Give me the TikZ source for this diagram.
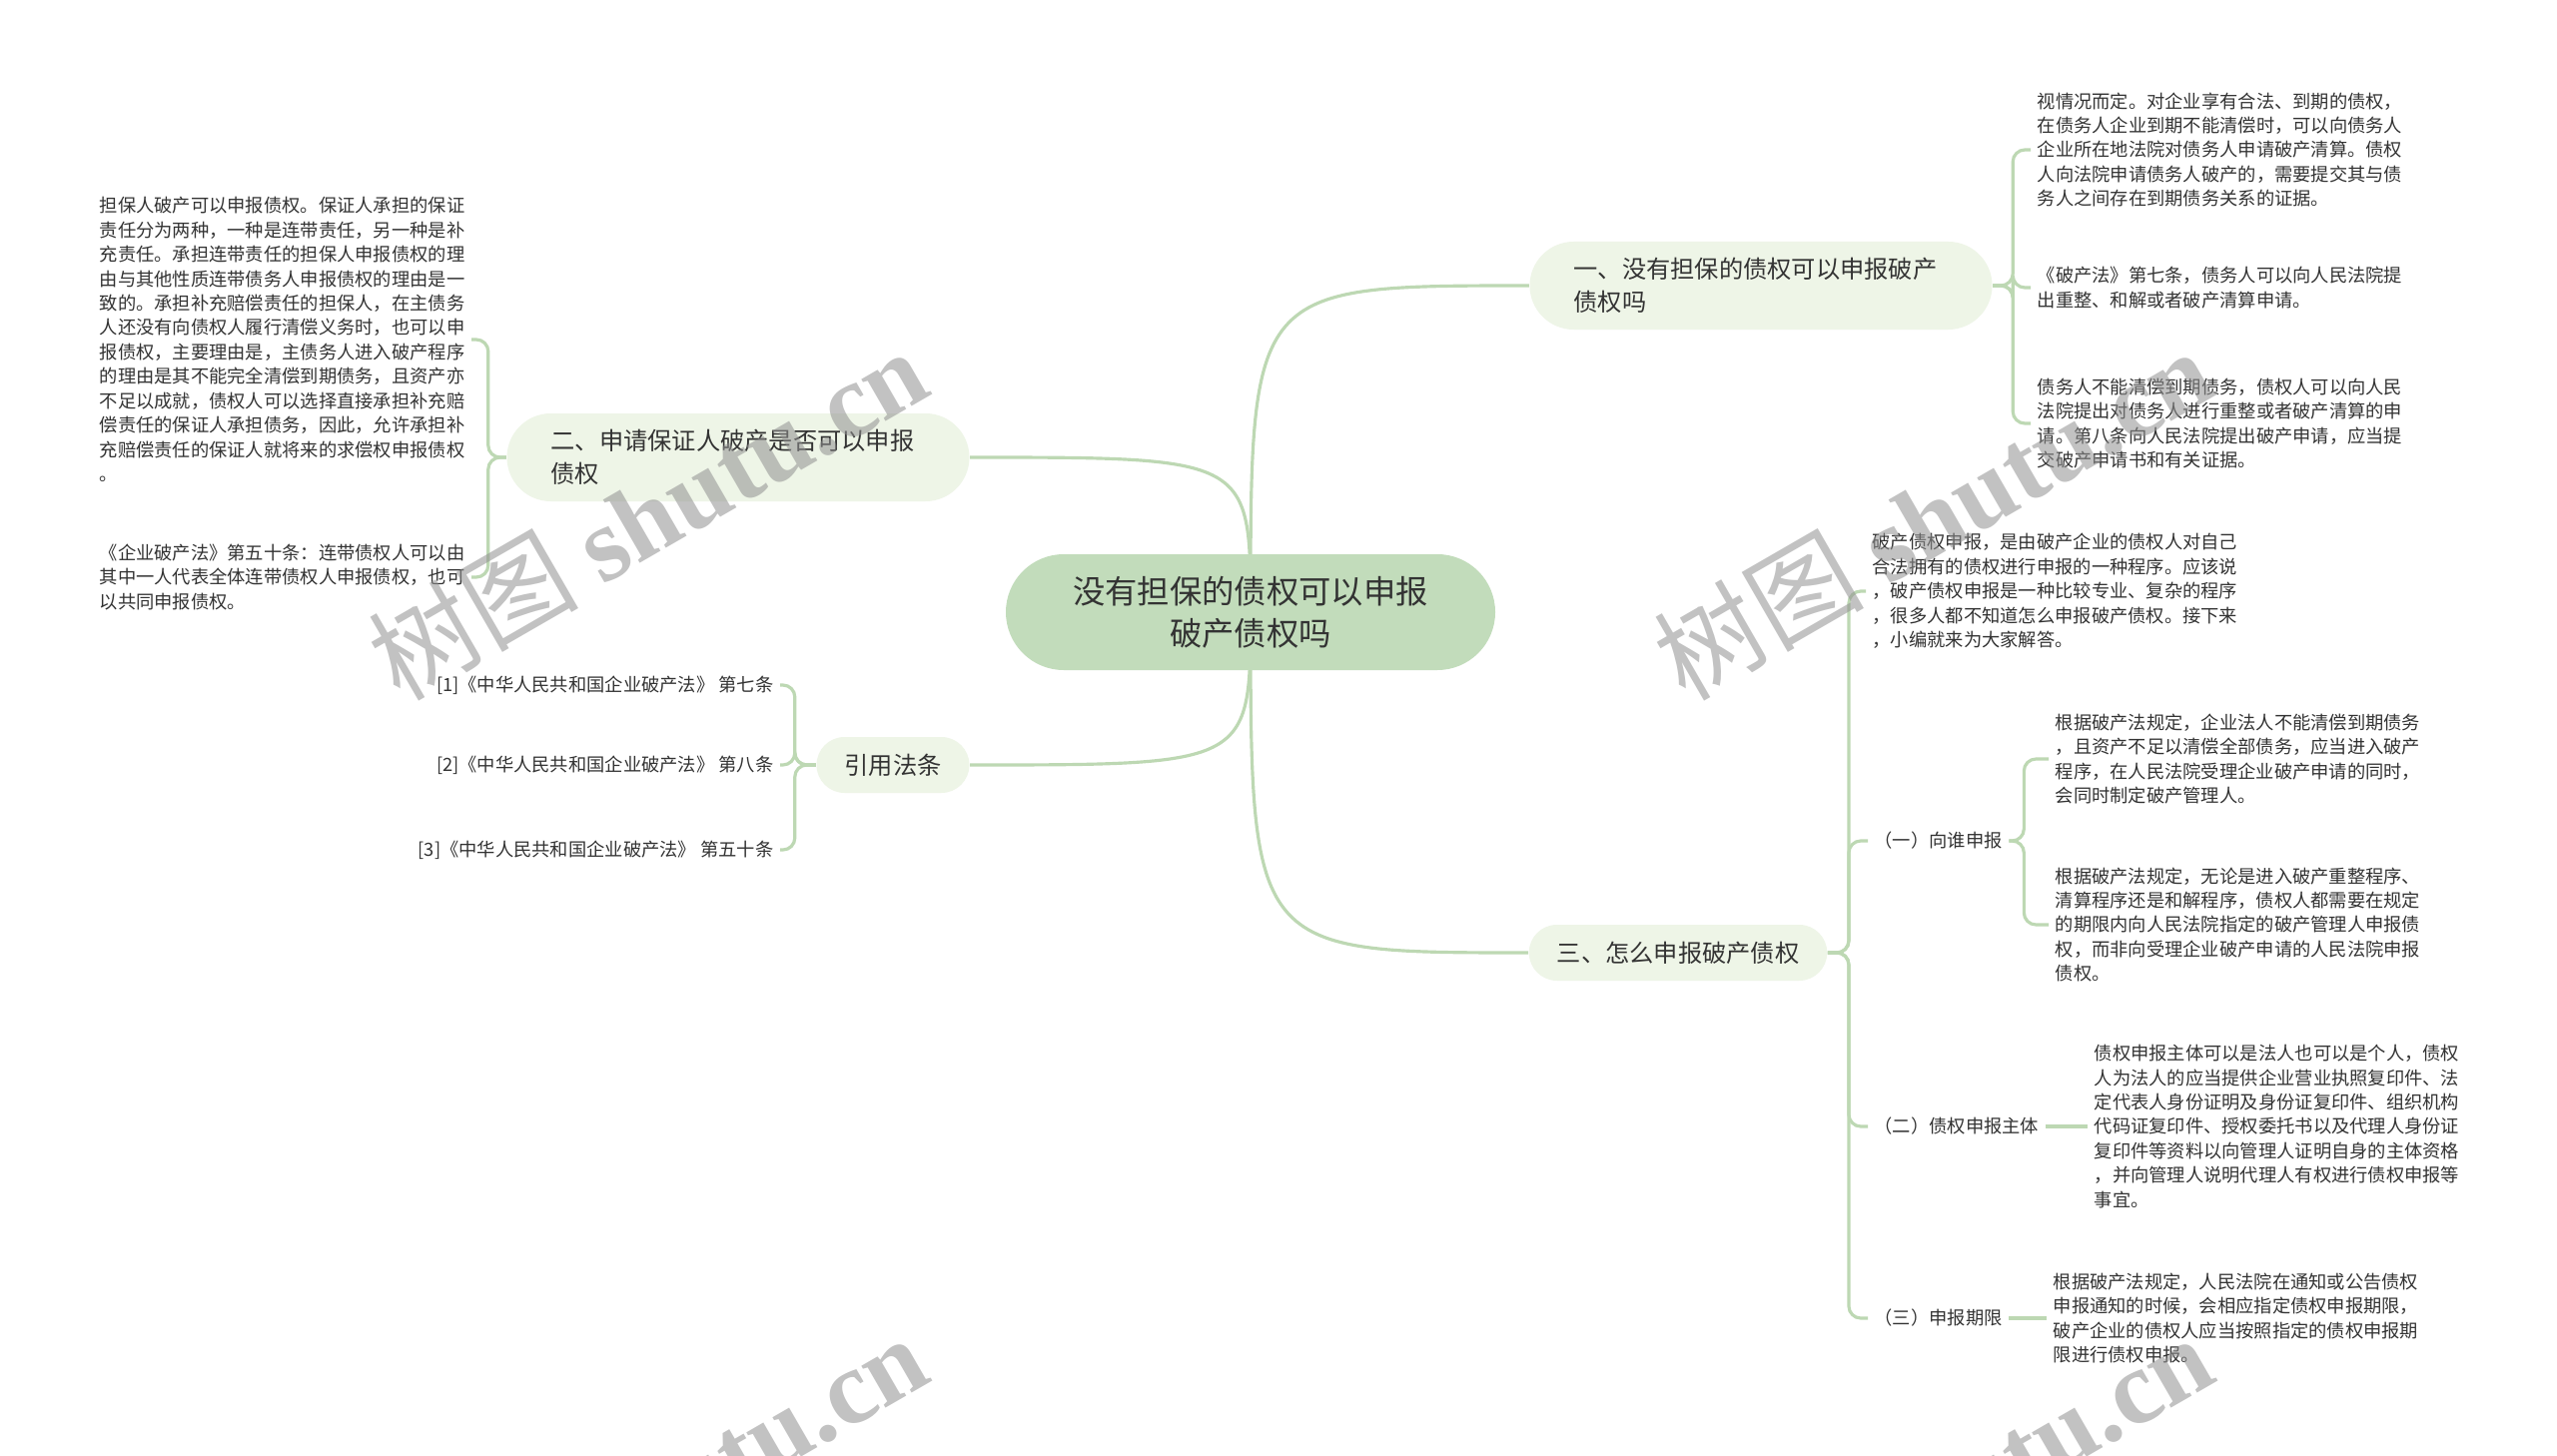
\documentclass[tikz,border=0pt]{standalone}
\usepackage{fontspec}
\setmainfont{Noto Sans CJK SC}
\newfontfamily\wmfont{Liberation Serif}
\usepackage{tikz}
\usepackage{xcolor}
\usetikzlibrary{positioning, backgrounds}
\definecolor{MapRoot}{HTML}{C2DCBB}
\definecolor{MapBranch}{HTML}{EEF5E7}
\definecolor{MapLine}{HTML}{BDD8B3}
\definecolor{MapText}{HTML}{333333}
\definecolor{MapMark}{HTML}{909090}
\tikzset{
    % Node styles
    rootbox/.style={
        rectangle,
        rounded corners=0.58cm,
        fill=MapRoot,
        minimum width=4.9cm,
        minimum height=1.16cm,
        align=center,
        text=MapText,
        font=\fontsize{9.2pt}{12pt}\selectfont
    },
    branchbox/.style={
        rectangle,
        rounded corners=0.28cm,
        fill=MapBranch,
        minimum height=0.56cm,
        inner xsep=0.28cm,
        align=left,
        text=MapText,
        font=\fontsize{6.9pt}{9.3pt}\selectfont
    },
    widebox/.style={
        branchbox,
        rounded corners=0.44cm,
        text width=3.75cm,
        inner xsep=0.44cm,
        minimum height=0.88cm
    },
    leafnote/.style={
        rectangle,
        inner xsep=0.06cm,
        inner ysep=0.04cm,
        align=left,
        text=MapText,
        font=\fontsize{5.2pt}{6.95pt}\selectfont
    },
    refnote/.style={
        leafnote,
        align=right
    },
    % Connector styles
    maplink/.style={
        draw=MapLine,
        line width=0.9pt
    },
    mapfork/.style={
        maplink,
        rounded corners=0.12cm
    },
    % Watermark
    wmtext/.style={
        text=MapMark,
        text opacity=0.55,
        rotate=30,
        font=\fontsize{30pt}{30pt}\selectfont
    }
}
\begin{document}
\begin{tikzpicture}
    \useasboundingbox (0,0) rectangle (25.6,-14.58);

    % Central topic
    \node[rootbox] (root) at (12.52,-6.13) {没有担保的债权可以申报\\破产债权吗};

    % Main branches
    \node[widebox] (b1) at (17.63,-2.86) {一、没有担保的债权可以申报破产\\债权吗};
    \node[widebox] (b2) at (7.39,-4.58) {二、申请保证人破产是否可以申报\\债权};
    \node[branchbox] (b3) at (8.94,-7.66) {引用法条};
    \node[branchbox] (b4) at (16.80,-9.54) {三、怎么申报破产债权};

    % Leaves of branch one
    \node[leafnote,anchor=west] (l11) at (20.33,-1.50) {视情况而定。对企业享有合法、到期的债权，\\在债务人企业到期不能清偿时，可以向债务人\\企业所在地法院对债务人申请破产清算。债权\\人向法院申请债务人破产的，需要提交其与债\\务人之间存在到期债务关系的证据。};
    \node[leafnote,anchor=west] (l12) at (20.33,-2.88) {《破产法》第七条，债务人可以向人民法院提\\出重整、和解或者破产清算申请。};
    \node[leafnote,anchor=west] (l13) at (20.33,-4.24) {债务人不能清偿到期债务，债权人可以向人民\\法院提出对债务人进行重整或者破产清算的申\\请。第八条向人民法院提出破产申请，应当提\\交破产申请书和有关证据。};

    % Leaves of branch two
    \node[leafnote,anchor=east] (l21) at (4.72,-3.40) {担保人破产可以申报债权。保证人承担的保证\\责任分为两种，一种是连带责任，另一种是补\\充责任。承担连带责任的担保人申报债权的理\\由与其他性质连带债务人申报债权的理由是一\\致的。承担补充赔偿责任的担保人，在主债务\\人还没有向债权人履行清偿义务时，也可以申\\报债权，主要理由是，主债务人进入破产程序\\的理由是其不能完全清偿到期债务，且资产亦\\不足以成就，债权人可以选择直接承担补充赔\\偿责任的保证人承担债务，因此，允许承担补\\充赔偿责任的保证人就将来的求偿权申报债权\\。};
    \node[leafnote,anchor=east] (l22) at (4.72,-5.78) {《企业破产法》第五十条：连带债权人可以由\\其中一人代表全体连带债权人申报债权，也可\\以共同申报债权。};

    % Cited laws
    \node[refnote,anchor=east] (r1) at (7.81,-6.86) {[1]《中华人民共和国企业破产法》 第七条};
    \node[refnote,anchor=east] (r2) at (7.81,-7.66) {[2]《中华人民共和国企业破产法》 第八条};
    \node[refnote,anchor=east] (r3) at (7.81,-8.51) {[3]《中华人民共和国企业破产法》 第五十条};

    % Leaves of branch three
    \node[leafnote,anchor=west] (l41) at (18.68,-5.92) {破产债权申报，是由破产企业的债权人对自己\\合法拥有的债权进行申报的一种程序。应该说\\，破产债权申报是一种比较专业、复杂的程序\\，很多人都不知道怎么申报破产债权。接下来\\，小编就来为大家解答。};
    \node[leafnote,anchor=west] (s1) at (18.70,-8.42) {（一）向谁申报};
    \node[leafnote,anchor=west] (s2) at (18.70,-11.28) {（二）债权申报主体};
    \node[leafnote,anchor=west] (s3) at (18.70,-13.20) {（三）申报期限};

    \node[leafnote,anchor=west] (l51) at (20.51,-7.60) {根据破产法规定，企业法人不能清偿到期债务\\，且资产不足以清偿全部债务，应当进入破产\\程序，在人民法院受理企业破产申请的同时，\\会同时制定破产管理人。};
    \node[leafnote,anchor=west] (l52) at (20.51,-9.26) {根据破产法规定，无论是进入破产重整程序、\\清算程序还是和解程序，债权人都需要在规定\\的期限内向人民法院指定的破产管理人申报债\\权，而非向受理企业破产申请的人民法院申报\\债权。};
    \node[leafnote,anchor=west] (l6) at (20.90,-11.28) {债权申报主体可以是法人也可以是个人，债权\\人为法人的应当提供企业营业执照复印件、法\\定代表人身份证明及身份证复印件、组织机构\\代码证复印件、授权委托书以及代理人身份证\\复印件等资料以向管理人证明自身的主体资格\\，并向管理人说明代理人有权进行债权申报等\\事宜。};
    \node[leafnote,anchor=west] (l7) at (20.49,-13.20) {根据破产法规定，人民法院在通知或公告债权\\申报通知的时候，会相应指定债权申报期限，\\破产企业的债权人应当按照指定的债权申报期\\限进行债权申报。};

    \begin{scope}[on background layer]
        \fill[white] (0,0) rectangle (25.6,-14.58);

        % Root to branches
        \draw[maplink] (root.center) .. controls (root.center |- b1.west) .. (b1.west);
        \draw[maplink] (root.center) .. controls (root.center |- b2.east) .. (b2.east);
        \draw[maplink] (root.center) .. controls (root.center |- b3.east) .. (b3.east);
        \draw[maplink] (root.center) .. controls (root.center |- b4.west) .. (b4.west);

        % Forks
        \foreach \leaf in {l11,l12,l13}
            \draw[mapfork] (b1.east) -- ++(0.2,0) |- (\leaf.west);
        \foreach \leaf in {l21,l22}
            \draw[mapfork] (b2.west) -- ++(-0.18,0) |- (\leaf.east);
        \foreach \leaf in {r1,r2,r3}
            \draw[mapfork] (b3.west) -- ++(-0.21,0) |- (\leaf.east);
        \foreach \leaf in {l41,s1,s2,s3}
            \draw[mapfork] (b4.east) -- ++(0.21,0) |- (\leaf.west);
        \foreach \leaf in {l51,l52}
            \draw[mapfork] (s1.east) -- ++(0.15,0) |- (\leaf.west);
        \draw[maplink] (s2.east) -- (l6.west);
        \draw[maplink] (s3.east) -- (l7.west);
    \end{scope}

    % Watermarks
    \node[wmtext] (wm1) at (6.48,-5.14) {树图 {\wmfont\bfseries shutu.cn}};
    \node[wmtext] (wm2) at (19.35,-5.14) {树图 {\wmfont\bfseries shutu.cn}};
    \node[wmtext] (wm3) at (6.48,-15.02) {树图 {\wmfont\bfseries shutu.cn}};
    \node[wmtext] (wm4) at (19.35,-15.02) {树图 {\wmfont\bfseries shutu.cn}};
\end{tikzpicture}
\end{document}
